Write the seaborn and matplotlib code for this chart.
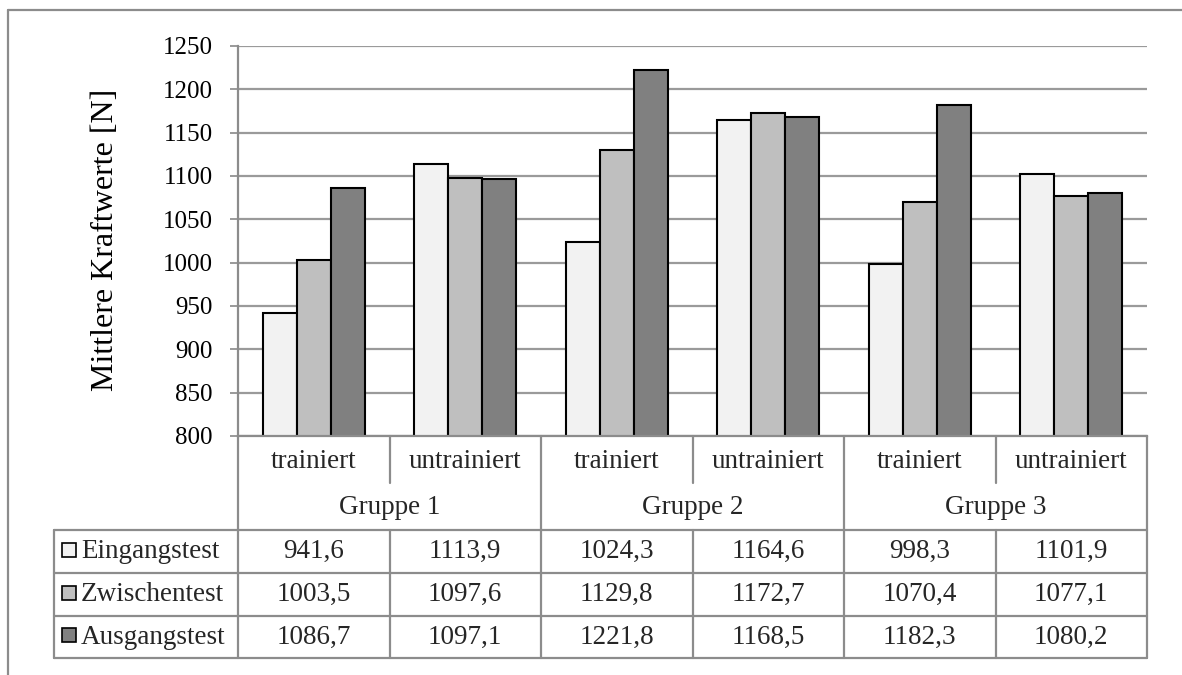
import numpy as np
import pandas as pd
import matplotlib
matplotlib.use("Agg")
import matplotlib.pyplot as plt
import seaborn as sns
from matplotlib.lines import Line2D
from matplotlib.patches import Rectangle
from matplotlib.transforms import blended_transform_factory

# --- data ---------------------------------------------------------------
groups = ["Gruppe 1", "Gruppe 2", "Gruppe 3"]
conditions = ["trainiert", "untrainiert"]
tests = ["Eingangstest", "Zwischentest", "Ausgangstest"]
eingangstest = [941.6, 1113.9, 1024.3, 1164.6, 998.3, 1101.9]
zwischentest = [1003.5, 1097.6, 1129.8, 1172.7, 1070.4, 1077.1]
ausgangstest = [1086.7, 1097.1, 1221.8, 1168.5, 1182.3, 1080.2]
y_ticks = [800, 850, 900, 950, 1000, 1050, 1100, 1150, 1200, 1250]
y_label = "Mittlere Kraftwerte [N]"

series = [eingangstest, zwischentest, ausgangstest]
colors = ["#f2f2f2", "#bfbfbf", "#808080"]

cells = [f"{g} {c}" for g in groups for c in conditions]
rows = []
for t, vals in zip(tests, series):
    for cell, v in zip(cells, vals):
        rows.append({"Zelle": cell, "Test": t, "Wert": v})
df = pd.DataFrame(rows)

# --- figure ---------------------------------------------------------------
sns.set_theme(style="white")
plt.rcParams["font.family"] = ["Liberation Serif", "DejaVu Serif"]

W, H = 1182, 675
fig = plt.figure(figsize=(W / 100, H / 100), dpi=100)
fig.patch.set_facecolor("white")

def fx(px):
    return px / W

def fy(py):
    return 1 - py / H

ax_l, ax_r, ax_t, ax_b = 238, 1147, 46, 436
ax = fig.add_axes([fx(ax_l), fy(ax_b), fx(ax_r) - fx(ax_l), fy(ax_t) - fy(ax_b)])

sns.barplot(data=df, x="Zelle", y="Wert", hue="Test", order=cells,
            hue_order=tests, palette=colors, edgecolor="black",
            linewidth=1.5, width=0.675, gap=0, legend=False, ax=ax,
            errorbar=None, saturation=1)

grid_c = "#9a9a9a"
line_c = "#8c8c8c"
ax.set_ylim(800, 1250)
ax.set_xlim(-0.5, len(cells) - 0.5)
ax.set_yticks(y_ticks)
ax.set_yticklabels([str(v) for v in y_ticks], fontsize=18, color="black")
ax.yaxis.grid(True, color=grid_c, linewidth=1.6)
ax.set_axisbelow(True)
ax.tick_params(axis="y", direction="out", length=6, width=1.4, color=grid_c,
               left=True, pad=12)
ax.tick_params(axis="x", bottom=False, labelbottom=False)
ax.set_xlabel("")
ax.set_ylabel("")
for s in ["top", "right"]:
    ax.spines[s].set_visible(False)
for s in ["left", "bottom"]:
    ax.spines[s].set_color(line_c)
    ax.spines[s].set_linewidth(1.6)

fig.text(fx(106), fy(240), y_label, rotation=90, ha="center", va="center",
         fontsize=23, color="black")

# --- data table below the plot -------------------------------------------
tr = blended_transform_factory(ax.transData, fig.transFigure)
lw = 1.6
fs = 19.5

def hline(x0, x1, py, trans=fig.transFigure):
    fig.add_artist(Line2D([x0, x1], [fy(py), fy(py)], transform=trans,
                          color=line_c, linewidth=lw))

def vline(x, py0, py1, trans=tr):
    fig.add_artist(Line2D([x, x], [fy(py0), fy(py1)], transform=trans,
                          color=line_c, linewidth=lw))

cat_row = (436, 483)
grp_row = (483, 530)
row_edges = [530, 573, 616, 658]
left_px = 54

# left spine continues down through the table
vline(-0.5, 436, row_edges[-1])
# group boundaries
for gi in range(len(groups)):
    right = -0.5 + 2 * (gi + 1)
    vline(right, 436, row_edges[-1])
    mid = -0.5 + 2 * gi + 1
    vline(mid, cat_row[0], cat_row[1])
    vline(mid, row_edges[0], row_edges[-1])
# horizontal row lines
for py in row_edges:
    hline(fx(left_px), fx(ax_r), py)
vline(fx(left_px), row_edges[0], row_edges[-1], trans=fig.transFigure)

# category / group labels
for i, cell in enumerate(cells):
    fig.text(i, fy(461), conditions[i % 2],
             transform=tr, ha="center", va="center", fontsize=fs)
for gi, g in enumerate(groups):
    fig.text(2 * gi + 0.5, fy(507), g,
             transform=tr, ha="center", va="center", fontsize=fs)

# value rows with legend keys
for ri, (t, vals, col) in enumerate(zip(tests, series, colors)):
    yc = (row_edges[ri] + row_edges[ri + 1]) / 2
    key = Rectangle((fx(62), fy(yc + 5)), fx(14), 14 / H,
                    transform=fig.transFigure, facecolor=col,
                    edgecolor="black", linewidth=1.2)
    fig.add_artist(key)
    fig.text(fx(81), fy(yc), t, ha="left", va="center", fontsize=fs)
    for i, v in enumerate(vals):
        label = f"{v:.1f}".replace(".", ",")
        fig.text(i, fy(yc), label, transform=tr, ha="center", va="center",
                 fontsize=fs)

# outer chart frame
fig.add_artist(Line2D([fx(8), fx(8)], [fy(10), 0], transform=fig.transFigure,
                      color=line_c, linewidth=lw))
fig.add_artist(Line2D([fx(8), 1], [fy(10), fy(10)], transform=fig.transFigure,
                      color=line_c, linewidth=lw))

fig.savefig("out.png", dpi=100)
